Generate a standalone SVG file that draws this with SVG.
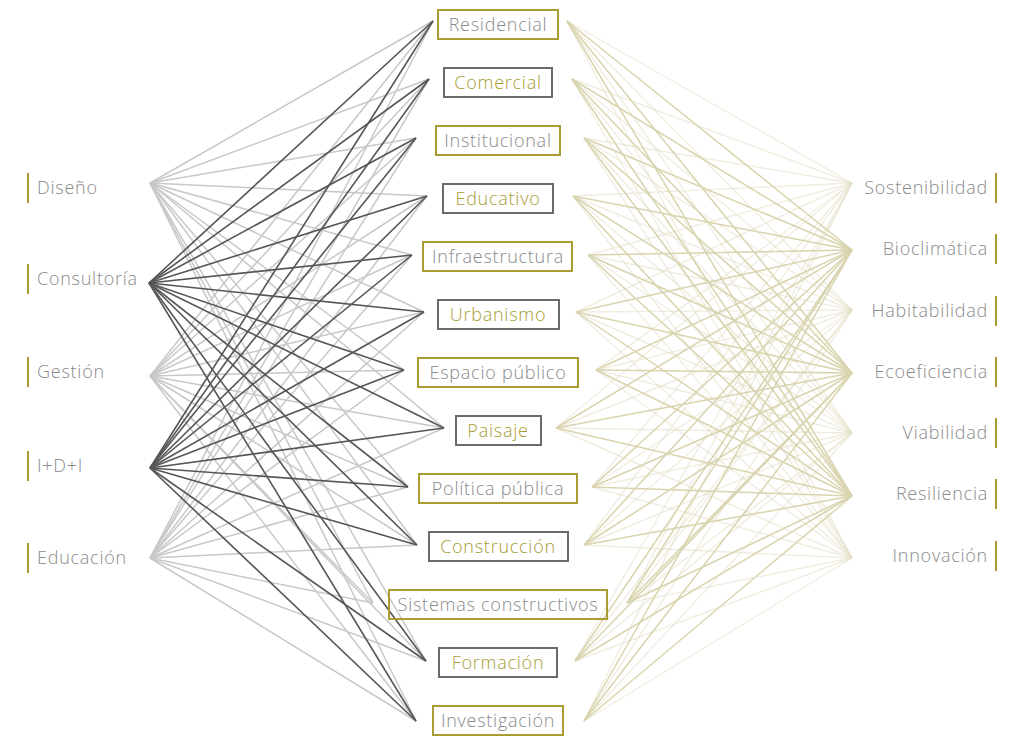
<svg xmlns="http://www.w3.org/2000/svg" width="1024" height="745" viewBox="0 0 1024 745">
<style>
text{font-family:"Open Sans","Liberation Sans",sans-serif;font-weight:300;font-size:18px;letter-spacing:0.75px}
.g{fill:#8a8a8a}
.o{fill:#a89c33}
.bo{fill:none;stroke:#a89c33;stroke-width:2}
.bg{fill:none;stroke:#6b6b6b;stroke-width:2}
.bar{fill:#a89c33}
.dk line{stroke:#565656;stroke-width:1.6}
.lt line{stroke:#c8c8c8;stroke-width:1.5}
.kh line{stroke:#d9d3ae;stroke-width:1.5}
.fn line{stroke:#e4dfc6;stroke-width:1.4;stroke-opacity:0.55}
</style>
<rect width="1024" height="745" fill="#ffffff"/>
<g id="connectors">
<g class="lt">
<line x1="150" y1="183" x2="433" y2="21"/><line x1="150" y1="183" x2="429" y2="79"/><line x1="150" y1="183" x2="416" y2="138"/><line x1="150" y1="183" x2="427" y2="196"/><line x1="150" y1="183" x2="412" y2="255"/><line x1="150" y1="183" x2="424" y2="312"/><line x1="150" y1="183" x2="404" y2="370"/><line x1="150" y1="183" x2="444" y2="428"/><line x1="150" y1="183" x2="408" y2="487"/><line x1="150" y1="183" x2="417" y2="545"/><line x1="150" y1="183" x2="373" y2="603"/><line x1="150" y1="183" x2="426" y2="661"/><line x1="150" y1="183" x2="416" y2="721"/>
<line x1="150" y1="376" x2="433" y2="21"/><line x1="150" y1="376" x2="429" y2="79"/><line x1="150" y1="376" x2="416" y2="138"/><line x1="150" y1="376" x2="427" y2="196"/><line x1="150" y1="376" x2="412" y2="255"/><line x1="150" y1="376" x2="424" y2="312"/><line x1="150" y1="376" x2="404" y2="370"/><line x1="150" y1="376" x2="444" y2="428"/><line x1="150" y1="376" x2="408" y2="487"/><line x1="150" y1="376" x2="417" y2="545"/><line x1="150" y1="376" x2="373" y2="603"/><line x1="150" y1="376" x2="426" y2="661"/><line x1="150" y1="376" x2="416" y2="721"/>
<line x1="150" y1="558" x2="433" y2="21"/><line x1="150" y1="558" x2="429" y2="79"/><line x1="150" y1="558" x2="416" y2="138"/><line x1="150" y1="558" x2="427" y2="196"/><line x1="150" y1="558" x2="412" y2="255"/><line x1="150" y1="558" x2="424" y2="312"/><line x1="150" y1="558" x2="404" y2="370"/><line x1="150" y1="558" x2="444" y2="428"/><line x1="150" y1="558" x2="408" y2="487"/><line x1="150" y1="558" x2="417" y2="545"/><line x1="150" y1="558" x2="373" y2="603"/><line x1="150" y1="558" x2="426" y2="661"/><line x1="150" y1="558" x2="416" y2="721"/>
</g>
<g class="dk">
<line x1="149" y1="283" x2="433" y2="21"/><line x1="149" y1="283" x2="429" y2="79"/><line x1="149" y1="283" x2="416" y2="138"/><line x1="149" y1="283" x2="427" y2="196"/><line x1="149" y1="283" x2="412" y2="255"/><line x1="149" y1="283" x2="424" y2="312"/><line x1="149" y1="283" x2="404" y2="370"/><line x1="149" y1="283" x2="444" y2="428"/><line x1="149" y1="283" x2="408" y2="487"/><line x1="149" y1="283" x2="417" y2="545"/><line x1="149" y1="283" x2="426" y2="661"/><line x1="149" y1="283" x2="416" y2="721"/>
<line x1="150" y1="468" x2="433" y2="21"/><line x1="150" y1="468" x2="429" y2="79"/><line x1="150" y1="468" x2="416" y2="138"/><line x1="150" y1="468" x2="427" y2="196"/><line x1="150" y1="468" x2="412" y2="255"/><line x1="150" y1="468" x2="424" y2="312"/><line x1="150" y1="468" x2="404" y2="370"/><line x1="150" y1="468" x2="444" y2="428"/><line x1="150" y1="468" x2="408" y2="487"/><line x1="150" y1="468" x2="417" y2="545"/><line x1="150" y1="468" x2="426" y2="661"/><line x1="150" y1="468" x2="416" y2="721"/>
</g>
<g class="fn">
<line x1="567" y1="21" x2="852" y2="183"/><line x1="572" y1="79" x2="852" y2="183"/><line x1="584" y1="138" x2="852" y2="183"/><line x1="573" y1="196" x2="852" y2="183"/><line x1="588" y1="255" x2="852" y2="183"/><line x1="576" y1="312" x2="852" y2="183"/><line x1="596" y1="370" x2="852" y2="183"/><line x1="556" y1="428" x2="852" y2="183"/><line x1="592" y1="487" x2="852" y2="183"/><line x1="584" y1="545" x2="852" y2="183"/><line x1="627" y1="603" x2="852" y2="183"/><line x1="575" y1="661" x2="852" y2="183"/><line x1="584" y1="721" x2="852" y2="183"/>
<line x1="567" y1="21" x2="852" y2="310"/><line x1="572" y1="79" x2="852" y2="310"/><line x1="584" y1="138" x2="852" y2="310"/><line x1="573" y1="196" x2="852" y2="310"/><line x1="588" y1="255" x2="852" y2="310"/><line x1="576" y1="312" x2="852" y2="310"/><line x1="596" y1="370" x2="852" y2="310"/><line x1="556" y1="428" x2="852" y2="310"/><line x1="592" y1="487" x2="852" y2="310"/><line x1="584" y1="545" x2="852" y2="310"/><line x1="627" y1="603" x2="852" y2="310"/><line x1="575" y1="661" x2="852" y2="310"/><line x1="584" y1="721" x2="852" y2="310"/>
<line x1="567" y1="21" x2="852" y2="433"/><line x1="572" y1="79" x2="852" y2="433"/><line x1="584" y1="138" x2="852" y2="433"/><line x1="573" y1="196" x2="852" y2="433"/><line x1="588" y1="255" x2="852" y2="433"/><line x1="576" y1="312" x2="852" y2="433"/><line x1="596" y1="370" x2="852" y2="433"/><line x1="556" y1="428" x2="852" y2="433"/><line x1="592" y1="487" x2="852" y2="433"/><line x1="584" y1="545" x2="852" y2="433"/><line x1="627" y1="603" x2="852" y2="433"/><line x1="575" y1="661" x2="852" y2="433"/><line x1="584" y1="721" x2="852" y2="433"/>
<line x1="567" y1="21" x2="852" y2="558"/><line x1="572" y1="79" x2="852" y2="558"/><line x1="584" y1="138" x2="852" y2="558"/><line x1="573" y1="196" x2="852" y2="558"/><line x1="588" y1="255" x2="852" y2="558"/><line x1="576" y1="312" x2="852" y2="558"/><line x1="596" y1="370" x2="852" y2="558"/><line x1="556" y1="428" x2="852" y2="558"/><line x1="592" y1="487" x2="852" y2="558"/><line x1="584" y1="545" x2="852" y2="558"/><line x1="627" y1="603" x2="852" y2="558"/><line x1="575" y1="661" x2="852" y2="558"/><line x1="584" y1="721" x2="852" y2="558"/>
</g>
<g class="kh">
<line x1="567" y1="21" x2="852" y2="250"/><line x1="572" y1="79" x2="852" y2="250"/><line x1="584" y1="138" x2="852" y2="250"/><line x1="573" y1="196" x2="852" y2="250"/><line x1="588" y1="255" x2="852" y2="250"/><line x1="576" y1="312" x2="852" y2="250"/><line x1="596" y1="370" x2="852" y2="250"/><line x1="556" y1="428" x2="852" y2="250"/><line x1="592" y1="487" x2="852" y2="250"/><line x1="584" y1="545" x2="852" y2="250"/><line x1="627" y1="603" x2="852" y2="250"/><line x1="575" y1="661" x2="852" y2="250"/><line x1="584" y1="721" x2="852" y2="250"/>
<line x1="567" y1="21" x2="852" y2="373"/><line x1="572" y1="79" x2="852" y2="373"/><line x1="584" y1="138" x2="852" y2="373"/><line x1="573" y1="196" x2="852" y2="373"/><line x1="588" y1="255" x2="852" y2="373"/><line x1="576" y1="312" x2="852" y2="373"/><line x1="596" y1="370" x2="852" y2="373"/><line x1="556" y1="428" x2="852" y2="373"/><line x1="592" y1="487" x2="852" y2="373"/><line x1="584" y1="545" x2="852" y2="373"/><line x1="627" y1="603" x2="852" y2="373"/><line x1="575" y1="661" x2="852" y2="373"/><line x1="584" y1="721" x2="852" y2="373"/>
<line x1="567" y1="21" x2="852" y2="496"/><line x1="572" y1="79" x2="852" y2="496"/><line x1="584" y1="138" x2="852" y2="496"/><line x1="573" y1="196" x2="852" y2="496"/><line x1="588" y1="255" x2="852" y2="496"/><line x1="576" y1="312" x2="852" y2="496"/><line x1="596" y1="370" x2="852" y2="496"/><line x1="556" y1="428" x2="852" y2="496"/><line x1="592" y1="487" x2="852" y2="496"/><line x1="584" y1="545" x2="852" y2="496"/><line x1="627" y1="603" x2="852" y2="496"/><line x1="575" y1="661" x2="852" y2="496"/><line x1="584" y1="721" x2="852" y2="496"/>
</g>
</g>
<g id="left-nodes">
<g id="diseno"><rect class="bar" x="27" y="173" width="2" height="30"/><text class="g" x="37" y="194">Diseño</text></g>
<g id="consultoria"><rect class="bar" x="27" y="264" width="2" height="30"/><text class="g" x="37" y="285">Consultoría</text></g>
<g id="gestion"><rect class="bar" x="27" y="357" width="2" height="30"/><text class="g" x="37" y="378">Gestión</text></g>
<g id="idi"><rect class="bar" x="27" y="451" width="2" height="30"/><text class="g" x="37" y="472">I+D+I</text></g>
<g id="educacion"><rect class="bar" x="27" y="543" width="2" height="30"/><text class="g" x="37" y="564">Educación</text></g>
</g>
<g id="center-nodes" text-anchor="middle">
<g id="residencial"><rect class="bo" x="438" y="10" width="120" height="29"/><text class="g" x="498" y="31">Residencial</text></g>
<g id="comercial"><rect class="bg" x="444" y="68" width="108" height="29"/><text class="o" x="498" y="89">Comercial</text></g>
<g id="institucional"><rect class="bo" x="436" y="126" width="124" height="29"/><text class="g" x="498" y="147">Institucional</text></g>
<g id="educativo"><rect class="bg" x="443" y="184" width="110" height="29"/><text class="o" x="498" y="205">Educativo</text></g>
<g id="infraestructura"><rect class="bo" x="423" y="242" width="149" height="29"/><text class="g" x="498" y="263">Infraestructura</text></g>
<g id="urbanismo"><rect class="bg" x="438" y="300" width="121" height="29"/><text class="o" x="498" y="321">Urbanismo</text></g>
<g id="espacio-publico"><rect class="bo" x="418" y="358" width="160" height="29"/><text class="g" x="498" y="379">Espacio público</text></g>
<g id="paisaje"><rect class="bg" x="456" y="416" width="85" height="29"/><text class="o" x="498" y="437">Paisaje</text></g>
<g id="politica-publica"><rect class="bo" x="419" y="474" width="158" height="29"/><text class="g" x="498" y="495">Política pública</text></g>
<g id="construccion"><rect class="bg" x="429" y="532" width="139" height="29"/><text class="o" x="498" y="553">Construcción</text></g>
<g id="sistemas-constructivos"><rect class="bo" x="389" y="590" width="218" height="29"/><text class="g" x="498" y="611">Sistemas constructivos</text></g>
<g id="formacion"><rect class="bg" x="439" y="648" width="118" height="29"/><text class="o" x="498" y="669">Formación</text></g>
<g id="investigacion"><rect class="bo" x="433" y="706" width="130" height="29"/><text class="g" x="498" y="727">Investigación</text></g>
</g>
<g id="right-nodes" text-anchor="end">
<g id="sostenibilidad"><rect class="bar" x="995" y="173" width="2" height="30"/><text class="g" x="988" y="194">Sostenibilidad</text></g>
<g id="bioclimatica"><rect class="bar" x="995" y="234" width="2" height="30"/><text class="g" x="988" y="255">Bioclimática</text></g>
<g id="habitabilidad"><rect class="bar" x="995" y="296" width="2" height="30"/><text class="g" x="988" y="317">Habitabilidad</text></g>
<g id="ecoeficiencia"><rect class="bar" x="995" y="357" width="2" height="30"/><text class="g" x="988" y="378">Ecoeficiencia</text></g>
<g id="viabilidad"><rect class="bar" x="995" y="418" width="2" height="30"/><text class="g" x="988" y="439">Viabilidad</text></g>
<g id="resiliencia"><rect class="bar" x="995" y="479" width="2" height="30"/><text class="g" x="988" y="500">Resiliencia</text></g>
<g id="innovacion"><rect class="bar" x="995" y="541" width="2" height="30"/><text class="g" x="988" y="562">Innovación</text></g>
</g>
</svg>
